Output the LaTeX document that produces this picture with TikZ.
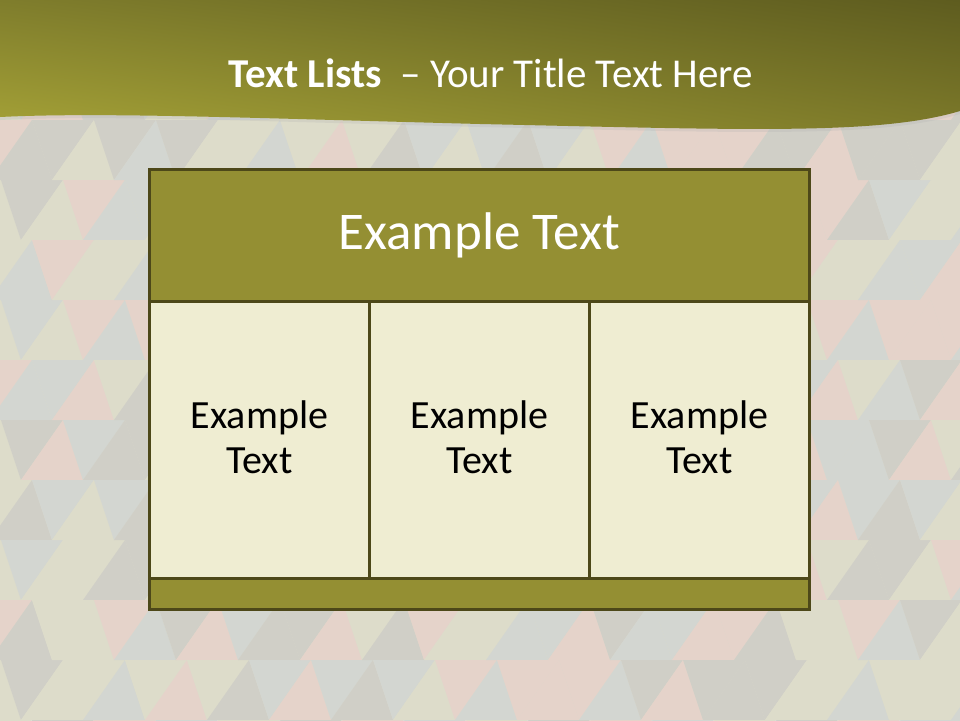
\documentclass[tikz,border=0pt]{standalone}
\usepackage{fontspec}
\setmainfont{Carlito}
\usetikzlibrary{shadings}
\definecolor{tri0}{HTML}{DDDCCA}
\definecolor{tri1}{HTML}{D3D6D1}
\definecolor{tri2}{HTML}{E5D3CA}
\definecolor{tri3}{HTML}{D0CFC7}
\definecolor{bandLL}{HTML}{A6A337}
\definecolor{bandUL}{HTML}{7F7D2C}
\definecolor{bandUR}{HTML}{5E5C1F}
\definecolor{bandLR}{HTML}{7E7B2A}
\definecolor{hdrfill}{HTML}{948F33}
\definecolor{cellfill}{HTML}{EFEDD2}
\definecolor{edge}{HTML}{4D4819}
\tikzset{
  boxbase/.style={draw=edge, line width=3pt, inner sep=0pt, anchor=north west},
  hdrbox/.style={boxbase, fill=hdrfill},
  cellbox/.style={boxbase, fill=cellfill, minimum width=220pt, minimum height=277pt},
  celltext/.style={font=\fontsize{40}{45}\selectfont, text=black, align=center},
}
\begin{document}
\begin{tikzpicture}[x=1pt,y=-1pt]
\useasboundingbox (0,0) rectangle (960,720);
\fill[tri0] (0,0) rectangle (960,720);
\foreach \i in {0,...,16} {
  \foreach \j in {0,...,12} {
    \pgfmathtruncatemacro\ca{mod(\i*7+\j*5+3*mod(\i*\j,3),4)}
    \pgfmathtruncatemacro\cb{mod(\i*3+\j*11+2*mod(\i+\j,5)+1,4)}
    \pgfmathsetmacro\xo{\i*62-30+mod(\j,2)*31}
    \pgfmathsetmacro\yo{\j*60}
    \fill[tri\ca] (\xo,\yo) -- (\xo+62,\yo) -- (\xo+20,\yo+60) -- cycle;
    \fill[tri\cb] (\xo+62,\yo) -- (\xo+82,\yo+60) -- (\xo+20,\yo+60) -- cycle;
  }
}
% banner
\fill[black!30, opacity=0.25] (0,0) -- (960,0) -- (960,114)
  .. controls (880,138) and (750,133) .. (480,127)
  .. controls (250,121) and (100,115) .. (0,120) -- cycle;
\shade[lower left=bandLL, upper left=bandUL, upper right=bandUR, lower right=bandLR]
  (0,0) -- (960,0) -- (960,111)
  .. controls (880,135) and (750,130) .. (480,124)
  .. controls (250,118) and (100,112) .. (0,117) -- cycle;
\node[text=white, font=\fontsize{41}{48}\selectfont, anchor=base] (title) at (491,87)
  {\textbf{Text Lists}\ \ – Your Title Text Here};
% table
\node[hdrbox, minimum width=660pt, minimum height=132pt] (hdr) at (148,168) {};
\node[text=white, font=\fontsize{53}{60}\selectfont] (hdrtext) at (hdr.center) {Example Text};
\node[cellbox] (c1) at (148,300) {};
\node[cellbox] (c2) at (368,300) {};
\node[cellbox] (c3) at (588,300) {};
\node[hdrbox, minimum width=660pt, minimum height=31pt] (foot) at (148,577) {};
\node[celltext] (t1) at ([yshift=3pt]c1.center) {Example\\Text};
\node[celltext] (t2) at ([yshift=3pt]c2.center) {Example\\Text};
\node[celltext] (t3) at ([yshift=3pt]c3.center) {Example\\Text};
\end{tikzpicture}
\end{document}
